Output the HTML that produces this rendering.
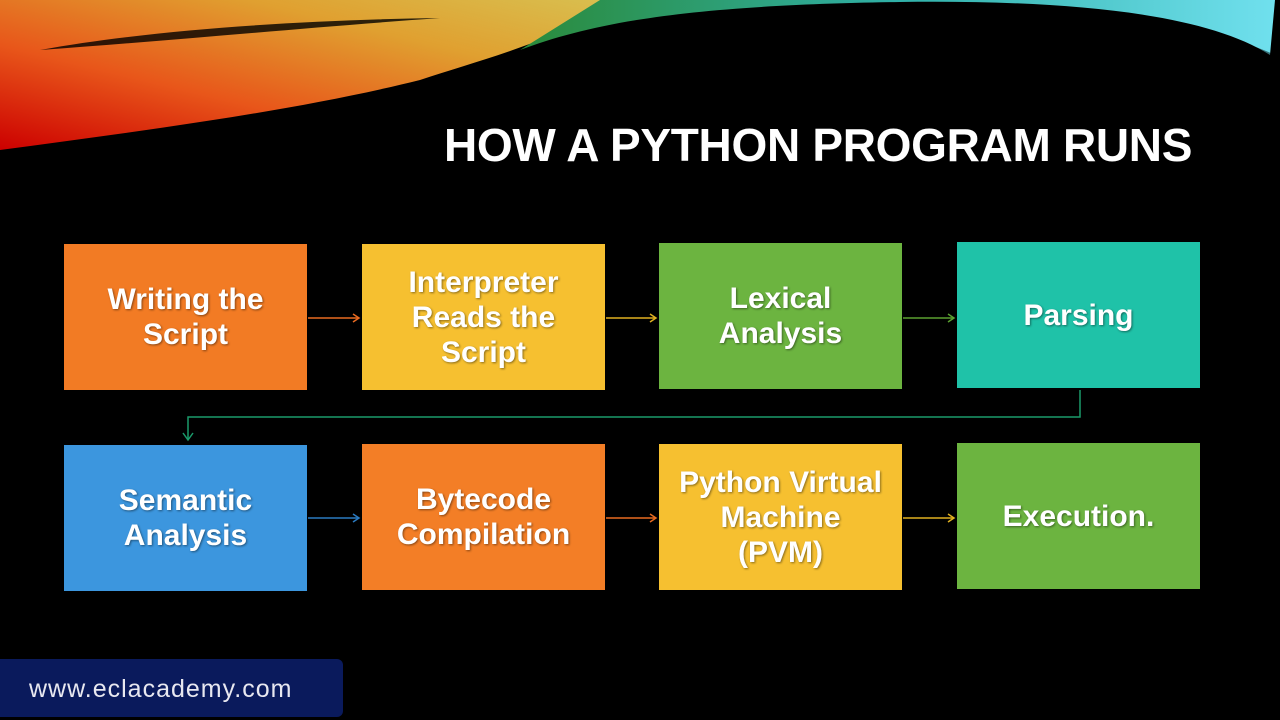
<!DOCTYPE html>
<html><head><style>
body{margin:0;width:1280px;height:720px;background:#000;overflow:hidden;position:relative;font-family:"Liberation Sans",sans-serif}
.b{position:absolute;width:243px;height:146px;display:flex;align-items:center;justify-content:center;text-align:center;color:#fff;font-weight:bold;font-size:30px;line-height:35px;text-shadow:1px 1px 2px rgba(0,0,0,.45)}
h1{position:absolute;left:444px;top:118px;margin:0;color:#fff;font-size:46px;font-weight:bold;letter-spacing:-0.3px;white-space:nowrap}
.u{position:absolute;left:0;top:659px;width:343px;height:58px;background:#0a1a5c;border-radius:0 6px 6px 0;color:#e8e8f0;font-size:25px;letter-spacing:1px;line-height:60px;padding-left:29px;box-sizing:border-box}
</style></head><body>
<svg width="1280" height="720" style="position:absolute;left:0;top:0">
<defs>
<linearGradient id="g1" x1="0" y1="1" x2="1" y2="0"><stop offset="0" stop-color="#c00"/><stop offset=".35" stop-color="#e8561a"/><stop offset=".7" stop-color="#e0a030"/><stop offset="1" stop-color="#d8c050"/></linearGradient>
<linearGradient id="g2" x1="0" y1="0" x2="1" y2="0"><stop offset="0" stop-color="#2a8a3a"/><stop offset=".5" stop-color="#30b0a8"/><stop offset="1" stop-color="#70e0ee"/></linearGradient>
</defs>
<path d="M0,0 L620,0 C560,40 480,60 420,80 C300,110 150,130 0,150 Z" fill="url(#g1)"/>
<path d="M40,50 C150,30 300,20 440,18 C300,28 180,40 40,50 Z" fill="#000" opacity=".8"/>
<path d="M520,50 C600,20 700,5 900,2 C1050,0 1200,10 1270,55 L1275,0 L600,0 Z" fill="url(#g2)"/>
<path d="M600,40 C700,15 850,8 950,10 C1100,15 1200,40 1265,60 L1275,55 C1200,20 1050,5 900,4 C780,4 680,15 600,40 Z" fill="#000" opacity=".5"/>
<g stroke-width="1.5" fill="none">
<line x1="308" y1="318" x2="358" y2="318" stroke="#e86a20"/><path d="M353,314 L359,318 L353,322" stroke="#e86a20"/>
<line x1="606" y1="318" x2="655" y2="318" stroke="#e0b020"/><path d="M650,314 L656,318 L650,322" stroke="#e0b020"/>
<line x1="903" y1="318" x2="953" y2="318" stroke="#5aa030"/><path d="M948,314 L954,318 L948,322" stroke="#5aa030"/>
<path d="M1080,390 L1080,417 L188,417 L188,440" stroke="#1a9a6a"/><path d="M183,433 L188,440 L193,433" stroke="#1a9a6a"/>
<line x1="308" y1="518" x2="358" y2="518" stroke="#2a7ac0"/><path d="M353,514 L359,518 L353,522" stroke="#2a7ac0"/>
<line x1="606" y1="518" x2="655" y2="518" stroke="#e86a20"/><path d="M650,514 L656,518 L650,522" stroke="#e86a20"/>
<line x1="903" y1="518" x2="953" y2="518" stroke="#e0b020"/><path d="M948,514 L954,518 L948,522" stroke="#e0b020"/>
</g></svg>
<h1>HOW A PYTHON PROGRAM RUNS</h1>
<div class="b" style="left:64px;top:244px;background:#f27b24">Writing the<br>Script</div>
<div class="b" style="left:362px;top:244px;background:#f6c030">Interpreter<br>Reads the<br>Script</div>
<div class="b" style="left:659px;top:243px;background:#6cb440">Lexical<br>Analysis</div>
<div class="b" style="left:957px;top:242px;background:#1fc2a8">Parsing</div>
<div class="b" style="left:64px;top:445px;background:#3c96de">Semantic<br>Analysis</div>
<div class="b" style="left:362px;top:444px;background:#f37e26">Bytecode<br>Compilation</div>
<div class="b" style="left:659px;top:444px;background:#f6c030">Python Virtual<br>Machine<br>(PVM)</div>
<div class="b" style="left:957px;top:443px;background:#6cb440">Execution.</div>
<div class="u">www.eclacademy.com</div>
</body></html>
